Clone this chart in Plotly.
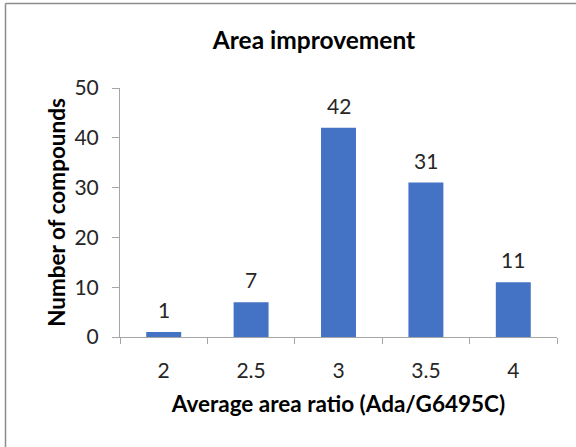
import plotly.graph_objects as go

# Histogram of average area ratios
ratio_bins = ["2", "2.5", "3", "3.5", "4"]
compound_counts = [1, 7, 42, 31, 11]

bar_color = "#4472C4"
axis_color = "#A6A6A6"
text_color = "#262626"
font_family = "Lato, 'Open Sans', sans-serif"

W, H = 576, 447
margin = dict(l=120, r=19, t=88, b=110)

fig = go.Figure(
    go.Bar(
        x=ratio_bins,
        y=compound_counts,
        marker=dict(color=bar_color, line=dict(width=0)),
        width=0.4,
        hoverinfo="x+y",
    )
)

# Value labels above each bar (category positions by index)
for i, val in enumerate(compound_counts):
    fig.add_annotation(
        x=i, y=val, text=str(val), showarrow=False,
        yanchor="bottom", yshift=8,
        font=dict(size=21, color=text_color, family=font_family),
    )

# Outer chart frame (top and left edges)
pw = W - margin["l"] - margin["r"]
ph = H - margin["t"] - margin["b"]
def px_x(p):
    return (p - margin["l"]) / pw
def px_y(p):
    return (H - margin["b"] - p) / ph

fig.add_shape(type="line", xref="paper", yref="paper",
              x0=px_x(5.5), x1=px_x(W + 2), y0=px_y(3.5), y1=px_y(3.5),
              line=dict(color="#8C8C8C", width=1.5))
fig.add_shape(type="line", xref="paper", yref="paper",
              x0=px_x(5.5), x1=px_x(5.5), y0=px_y(3.5), y1=px_y(H + 2),
              line=dict(color="#8C8C8C", width=1.5))

fig.update_layout(
    width=W, height=H,
    margin=margin,
    paper_bgcolor="white",
    plot_bgcolor="white",
    showlegend=False,
    font=dict(family=font_family, color=text_color),
    title=dict(
        text="<b>Area improvement</b>",
        x=314 / W, xanchor="center",
        y=1 - 40 / H, yanchor="middle",
        font=dict(size=24.5, color="#000000", family=font_family),
    ),
    xaxis=dict(
        type="category",
        showline=True, linecolor=axis_color, linewidth=1,
        ticks="outside", tickson="boundaries", ticklen=6,
        tickcolor=axis_color,
        tickfont=dict(size=21, color=text_color),
        ticklabelstandoff=15,
        showgrid=False, zeroline=False,
        title=dict(text="<b>Average area ratio (Ada/G6495C)</b>",
                   font=dict(size=22.5, color="#000000"), standoff=15),
    ),
    yaxis=dict(
        range=[0, 50], dtick=10,
        showline=True, linecolor=axis_color, linewidth=1,
        ticks="outside", ticklen=7, tickcolor=axis_color,
        tickfont=dict(size=21, color=text_color),
        ticklabelstandoff=9,
        showgrid=False, zeroline=False,
        title=dict(text="<b>Number of compounds</b>",
                   font=dict(size=22.5, color="#000000"), standoff=2),
    ),
)

fig.write_html("out.html")
